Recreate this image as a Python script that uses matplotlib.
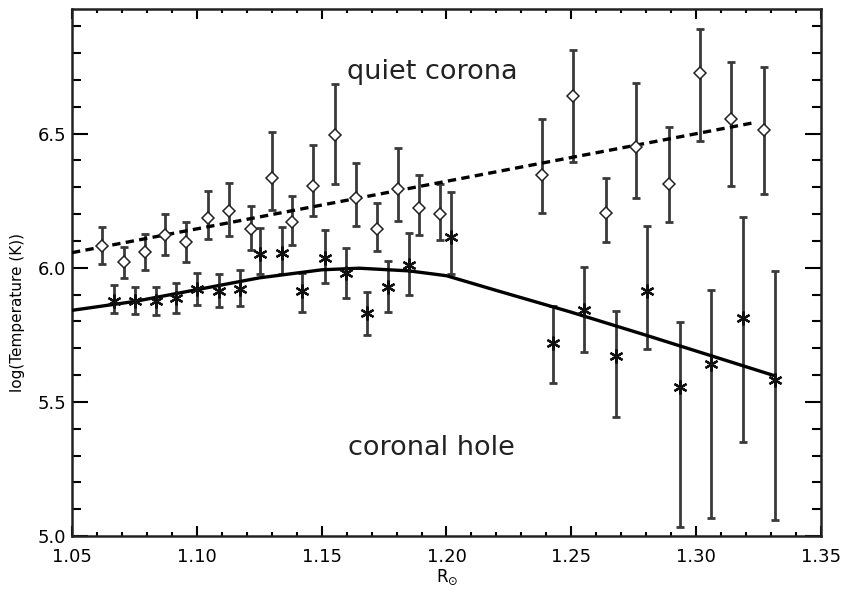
import matplotlib
matplotlib.use("Agg")
import matplotlib.pyplot as plt
import numpy as np
from matplotlib.ticker import MultipleLocator, FixedLocator

# Quiet corona (diamonds)
qc_x = [1.0619, 1.0708, 1.0792, 1.0874, 1.0955, 1.1045, 1.1130, 1.1216, 1.1300, 1.1382,
        1.1466, 1.1553, 1.1637, 1.1720, 1.1807, 1.1891, 1.1974, 1.2381, 1.2505, 1.2637,
        1.2761, 1.2891, 1.3016, 1.3140, 1.3270]
qc_y = [6.081, 6.020, 6.057, 6.122, 6.095, 6.186, 6.211, 6.144, 6.333, 6.171,
        6.304, 6.495, 6.261, 6.145, 6.292, 6.222, 6.199, 6.345, 6.640, 6.205,
        6.451, 6.312, 6.727, 6.553, 6.512]
qc_hi = [6.152, 6.078, 6.124, 6.199, 6.169, 6.286, 6.317, 6.230, 6.507, 6.267,
         6.457, 6.686, 6.391, 6.242, 6.445, 6.344, 6.313, 6.555, 6.811, 6.335,
         6.688, 6.524, 6.889, 6.766, 6.748]
qc_lo = [6.015, 5.963, 5.990, 6.047, 6.022, 6.106, 6.119, 6.065, 6.216, 6.085,
         6.193, 6.313, 6.155, 6.062, 6.174, 6.121, 6.102, 6.205, 6.395, 6.096,
         6.261, 6.169, 6.472, 6.304, 6.276]

# Coronal hole (asterisks)
ch_x = [1.0668, 1.0752, 1.0835, 1.0918, 1.1002, 1.1089, 1.1173, 1.1253, 1.1343, 1.1422,
        1.1513, 1.1596, 1.1680, 1.1764, 1.1851, 1.2018, 1.2425, 1.2550, 1.2679, 1.2802,
        1.2935, 1.3059, 1.3186, 1.3315]
ch_y = [5.876, 5.876, 5.876, 5.888, 5.922, 5.913, 5.922, 6.052, 6.056, 5.913,
        6.037, 5.979, 5.830, 5.928, 6.010, 6.114, 5.720, 5.841, 5.671, 5.913,
        5.555, 5.642, 5.814, 5.581]
ch_hi = [5.934, 5.929, 5.929, 5.944, 5.979, 5.975, 5.993, 6.147, 6.152, 5.979,
         6.139, 6.072, 5.911, 6.025, 6.128, 6.282, 5.857, 6.003, 5.839, 6.155,
         5.799, 5.916, 6.190, 5.988]
ch_lo = [5.830, 5.826, 5.823, 5.831, 5.861, 5.854, 5.857, 5.975, 5.975, 5.836,
         5.942, 5.888, 5.749, 5.836, 5.897, 5.978, 5.571, 5.686, 5.445, 5.696,
         5.035, 5.066, 5.351, 5.059]

# Model curves
qc_fit_x = [1.05, 1.323]
qc_fit_y = [6.056, 6.540]
ch_fit_x = [1.05, 1.075, 1.10, 1.125, 1.15, 1.165, 1.185, 1.20, 1.22, 1.25, 1.28, 1.3315]
ch_fit_y = [5.841, 5.874, 5.918, 5.962, 5.992, 5.998, 5.988, 5.970, 5.915, 5.834, 5.748, 5.597]

x_ticks = [1.05, 1.10, 1.15, 1.20, 1.25, 1.30, 1.35]
x_ticklabels = ["1.05", "1.10", "1.15", "1.20", "1.25", "1.30", "1.35"]
y_ticks = [5.0, 5.5, 6.0, 6.5]
y_ticklabels = ["5.0", "5.5", "6.0", "6.5"]

fig = plt.figure(figsize=(8.42, 5.90), dpi=100)
ax = fig.add_axes([72/842, 1-536/590, (821-72)/842, (536-9)/590])

ebc = "#3a3a3a"
qy = np.array(qc_y)
ax.errorbar(qc_x, qc_y, yerr=[qy - np.array(qc_lo), np.array(qc_hi) - qy], fmt='none',
            ecolor=ebc, elinewidth=2.0, capsize=3.0, capthick=2.0, zorder=2)
cy = np.array(ch_y)
ax.errorbar(ch_x, ch_y, yerr=[cy - np.array(ch_lo), np.array(ch_hi) - cy], fmt='none',
            ecolor=ebc, elinewidth=2.0, capsize=3.0, capthick=2.0, zorder=2)

ax.plot(qc_fit_x, qc_fit_y, color='black', lw=2.4, dashes=(2.5, 1.6), zorder=3)
ax.plot(ch_fit_x, ch_fit_y, color='black', lw=2.4, zorder=3)

ax.plot(qc_x, qc_y, linestyle='none', marker='D', markersize=6.0, markerfacecolor='white',
        markeredgecolor='#222222', markeredgewidth=1.1, zorder=4)
ax.plot(ch_x, ch_y, linestyle='none', marker=(6, 2, 0), markersize=10,
        markeredgecolor='#111111', markeredgewidth=1.6, zorder=4)

ax.set_xlim(1.05, 1.35)
ax.set_ylim(5.0, 6.964)
ax.xaxis.set_major_locator(FixedLocator(x_ticks))
ax.set_xticklabels(x_ticklabels)
ax.yaxis.set_major_locator(FixedLocator(y_ticks))
ax.set_yticklabels(y_ticklabels)
ax.xaxis.set_minor_locator(MultipleLocator(0.01))
ax.yaxis.set_minor_locator(MultipleLocator(0.1))

ax.tick_params(axis='x', which='major', direction='in', length=7.5, width=1.5,
               top=True, bottom=True, labelsize=13, pad=9)
ax.tick_params(axis='x', which='minor', direction='in', length=3, width=1.5,
               top=True, bottom=True)
ax.tick_params(axis='y', which='major', direction='in', length=11.5, width=1.5,
               left=True, right=True, labelsize=13, pad=4)
ax.tick_params(axis='y', which='minor', direction='in', length=6.5, width=1.5,
               left=True, right=True)
for s in ax.spines.values():
    s.set_linewidth(1.8)
    s.set_color('#222222')

ax.text(1.1601, 6.703, "quiet corona", fontsize=19.5, ha='left', va='baseline',
        color='#222222')
ax.text(1.1605, 5.303, "coronal hole", fontsize=19.5, ha='left', va='baseline',
        color='#222222')

fig.text(18/842, 1-312/590, "log(Temperature (K))", rotation=90, fontsize=11,
         ha='center', va='center')
fig.text(447/842, 1-577/590, r"R$_{\odot}$", fontsize=12, ha='center', va='center')

fig.savefig("out.png", dpi=100)
